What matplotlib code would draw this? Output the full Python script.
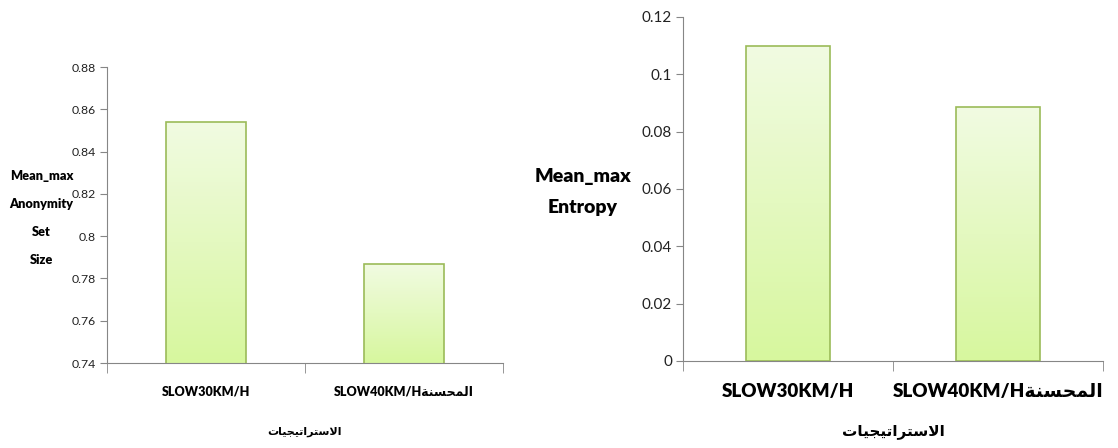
import numpy as np
import matplotlib.pyplot as plt
from matplotlib.colors import LinearSegmentedColormap

plt.rcParams['font.family'] = ['Lato', 'DejaVu Sans']

# Arabic written in presentation forms, visual (left-to-right) order
improved = '\ufe94\ufee8\ufeb4\ufea4\ufee4\ufedf\ufe8d'          # المحسنة
strategies_ar = ('\ufe95\ufe8e\ufef4\ufea0\ufef4\ufe97\ufe8d'
                 '\ufeae\ufe98\ufeb3\ufefb\ufe8d')                 # الاستراتيجيات

strategies = ['SLOW30KM/H', 'SLOW40KM/H' + improved]
anonymity = [0.854, 0.787]
entropy = [0.110, 0.0885]

anon_ticks = [0.74, 0.76, 0.78, 0.80, 0.82, 0.84, 0.86, 0.88]
entropy_ticks = [0, 0.02, 0.04, 0.06, 0.08, 0.10, 0.12]

GRID = '#868686'
EDGE = '#9bbb59'
grad = LinearSegmentedColormap.from_list('g', ['#d7f79e', '#f1fbe2'])


def gradient_bars(ax, values, ymin):
    bars = ax.bar(range(len(values)), values, width=0.4, bottom=0,
                  color='none', edgecolor=EDGE, linewidth=1.2, zorder=3)
    g = np.linspace(0, 1, 256).reshape(-1, 1)
    for b in bars:
        x0, w, h = b.get_x(), b.get_width(), b.get_height()
        im = ax.imshow(g, cmap=grad, origin='lower', aspect='auto',
                       extent=(x0, x0 + w, ymin, h), zorder=2)
        im.set_clip_path(b)
    return bars


def style(ax, values, ticks, tick_fs, xtick_fs, xpad):
    ymin, ymax = ticks[0], ticks[-1]
    gradient_bars(ax, values, ymin)
    ax.set_xlim(-0.5, 1.5)
    ax.set_ylim(ymin, ymax)
    for s in ('top', 'right'):
        ax.spines[s].set_visible(False)
    for s in ('left', 'bottom'):
        ax.spines[s].set_color(GRID)
    ax.set_yticks(ticks)
    ax.set_yticklabels([f'{round(t, 2):g}' for t in ticks], fontsize=tick_fs,
                       color='#222222')
    ax.tick_params(axis='y', length=5, color=GRID, pad=3)
    ax.set_xticks([0, 1])
    ax.set_xticklabels(strategies, fontsize=xtick_fs, fontweight='heavy')
    ax.tick_params(axis='x', which='major', length=0, pad=xpad)
    ax.set_xticks([-0.5, 0.5, 1.5], minor=True)
    ax.tick_params(axis='x', which='minor', length=7, color=GRID)


fig = plt.figure(figsize=(11.18, 4.48), dpi=100)

# left chart: anonymity set size
ax1 = fig.add_axes([107 / 1118, 1 - 363 / 448, 396 / 1118, 296 / 448])
style(ax1, anonymity, anon_ticks, 8.8, 9, 16.5)
ax1.set_ylabel('Mean_max\nAnonymity\nSet\nSize', rotation=0, fontsize=9.2,
               fontweight='heavy', ha='center', va='center', linespacing=2.6)
ax1.yaxis.set_label_coords(-0.165, 0.49)
ax1.set_xlabel(strategies_ar, fontsize=8, fontweight='bold', va='center')
ax1.xaxis.set_label_coords(0.5, -0.233)

# right chart: entropy
ax2 = fig.add_axes([683 / 1118, 1 - 361 / 448, 420 / 1118, 344 / 448])
style(ax2, entropy, entropy_ticks, 11, 13.5, 15.5)
ax2.set_ylabel('Mean_max\nEntropy', rotation=0, fontsize=14,
               fontweight='heavy', ha='center', va='center', linespacing=2.0)
ax2.yaxis.set_label_coords(-0.238, 0.491)
ax2.set_xlabel(strategies_ar, fontsize=11, fontweight='bold', va='center')
ax2.xaxis.set_label_coords(0.5, -0.206)

fig.savefig('out.png', dpi=100)
